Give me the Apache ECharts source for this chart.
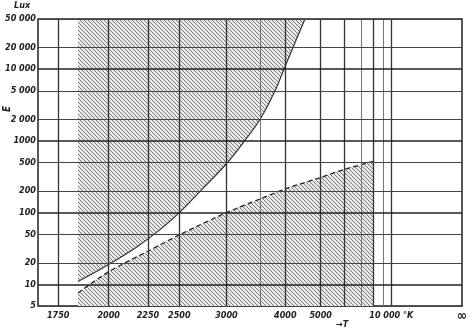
<!DOCTYPE html>
<html>
<head>
<meta charset="UTF-8">
<script src="https://cdn.jsdelivr.net/npm/echarts@6/dist/echarts.min.js"></script>
<style>
  html, body { margin: 0; padding: 0; background: #fff; }
  #main { width: 473px; height: 328px; }
</style>
</head>
<body>
<div id="main"></div>
<script>
// x axis is reciprocal temperature (mired), labelled in Kelvin
const xTicksK = [1750, 2000, 2250, 2500, 3000, 4000, 5000, 10000, Infinity];
const xTickLabels = ['1750', '2000', '2250', '2500', '3000', '4000', '5000', '10 000 °K', '{inf|∞}'];
const xGridK = [1750, 2000, 2250, 2500, 3000, 3500, 4000, 5000, 6000, 7000, 8000, 9000, 10000];
const yTicks = [5, 10, 20, 50, 100, 200, 500, 1000, 2000, 5000, 10000, 20000, 50000];
const yTickLabels = ['5', '10', '20', '50', '100', '200', '500', '1000', '2 000', '5 000', '10 000', '20 000', '50 000'];

// upper boundary of the comfortable zone (above: hatched)
const upperK = [1840, 2000, 2170, 2340, 2500, 2700, 3000, 3250, 3500, 3780, 3970, 4180, 4500];
const upperLux = [11, 19, 33, 58, 100, 200, 480, 1000, 2000, 5000, 10000, 20000, 50000];
// lower boundary (below: hatched)
const lowerK = [1840, 2000, 2250, 2500, 3000, 3500, 4000, 4900, 6000, 8000];
const lowerLux = [7.6, 15, 29, 49, 100, 155, 215, 300, 400, 520];

const mired = T => (T === Infinity ? 0 : 1e6 / T);
const toPoints = (ks, vs) => ks.map((k, i) => [mired(k), vs[i]]);

// diagonal hatch pattern
const tile = document.createElement('canvas');
tile.width = 4; tile.height = 4;
const ctx = tile.getContext('2d');
ctx.fillStyle = '#e9e9e9';
ctx.fillRect(0, 0, 4, 4);
ctx.strokeStyle = '#7a7a7a';
ctx.lineWidth = 1;
ctx.beginPath();
ctx.moveTo(-1, -1); ctx.lineTo(5, 5);
ctx.moveTo(-1, 3); ctx.lineTo(1, 5);
ctx.moveTo(3, -1); ctx.lineTo(5, 1);
ctx.stroke();
const hatch = { image: tile, repeat: 'repeat' };

const labelFont = {
  fontFamily: '"DejaVu Sans Condensed", "Liberation Sans", sans-serif',
  fontStyle: 'italic',
  fontWeight: 'bold',
  fontSize: 9,
  color: '#222'
};

const nearestIndex = (arr, v) => {
  let best = 0;
  arr.forEach((a, i) => { if (Math.abs(a - v) < Math.abs(arr[best] - v)) best = i; });
  return best;
};

const xMired = xTicksK.map(mired);
const gridLines = [];
xGridK.forEach(k => {
  const faint = k === 7000 || k === 9000 || k === 3500;
  gridLines.push({ xAxis: mired(k), lineStyle: { type: 'solid', color: faint ? '#777' : '#333', width: faint ? 1 : 1.3 } });
});
yTicks.forEach(v => {
  const decade = [10, 100, 1000, 10000].includes(v);
  gridLines.push({ yAxis: v, lineStyle: { type: 'solid', color: decade ? '#222' : '#444', width: decade ? 1.5 : 1.2 } });
});

const chart = echarts.init(document.getElementById('main'), null, { renderer: 'canvas' });
chart.setOption({
  animation: false,
  grid: { left: 38, right: 11, top: 19, bottom: 22, show: true, borderColor: '#222', borderWidth: 1.5 },
  xAxis: {
    type: 'value', min: 0, max: 600, inverse: true,
    axisLine: { show: false }, axisTick: { show: false }, splitLine: { show: false },
    axisLabel: Object.assign({
      customValues: xMired,
      margin: 5,
      formatter: v => xTickLabels[nearestIndex(xMired, v)],
      rich: { inf: { fontSize: 14, lineHeight: 10, fontWeight: 'bold', color: '#222' } }
    }, labelFont)
  },
  yAxis: {
    type: 'log', logBase: 10, min: 5, max: 50000,
    axisLine: { show: false }, axisTick: { show: false }, splitLine: { show: false },
    axisLabel: Object.assign({
      customValues: yTicks,
      margin: 2,
      formatter: v => yTickLabels[nearestIndex(yTicks.map(Math.log), Math.log(v))]
    }, labelFont)
  },
  graphic: [
    { type: 'text', left: 14, top: 1, style: { text: 'Lux', fill: '#222', font: 'italic bold 9px "DejaVu Sans Condensed", sans-serif' } },
    { type: 'text', x: 2, y: 112, rotation: Math.PI / 2, style: { text: 'E', fill: '#222', font: 'italic bold 10px "DejaVu Sans Condensed", sans-serif' } },
    { type: 'text', left: 336, top: 320, style: { text: '→T', fill: '#222', font: 'italic bold 9px "DejaVu Sans Condensed", sans-serif' } }
  ],
  series: [
    {
      type: 'line', name: 'upper', data: toPoints(upperK, upperLux),
      smooth: 0.4, symbol: 'none',
      lineStyle: { color: '#333', width: 1.2 },
      areaStyle: { origin: 'end', color: hatch, opacity: 1 },
      z: 2
    },
    {
      type: 'line', name: 'lower', data: toPoints(lowerK, lowerLux),
      smooth: 0.3, symbol: 'none',
      lineStyle: { color: '#222', width: 1.3, type: [5, 3] },
      areaStyle: { origin: 'start', color: hatch, opacity: 1 },
      z: 2
    },
    {
      type: 'line', name: 'grid', data: [], z: 3,
      markLine: { silent: true, symbol: 'none', label: { show: false }, data: gridLines, animation: false }
    }
  ]
});
</script>
</body>
</html>
